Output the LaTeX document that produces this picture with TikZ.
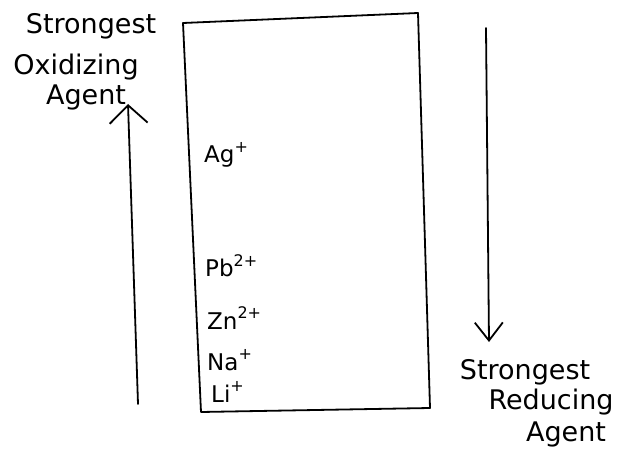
\documentclass[tikz,border=0pt]{standalone}
\usepackage{fontspec}
\setmainfont{DejaVu Sans}
\usetikzlibrary{arrows.meta}
\newcommand{\ionsup}[1]{\raisebox{0.45em}{\fontsize{16}{18}\selectfont #1}}
\begin{document}
\begin{tikzpicture}[x=1pt,y=-1pt,
  ink/.style={line width=1.8pt,line cap=round,line join=round},
  lbl/.style={font=\fontsize{27}{31}\selectfont,inner sep=0pt},
  ion/.style={font=\fontsize{23}{27}\selectfont,inner sep=0pt,anchor=west}]
\useasboundingbox (0,0) rectangle (619,452);
% box
\coordinate (tl) at (183,23);
\coordinate (tr) at (418,13);
\coordinate (br) at (430,408);
\coordinate (bl) at (201,412);
\draw[ink] (tl) -- (tr) -- (br) -- (bl) -- cycle;
% arrows
\coordinate (la) at (138,404);
\coordinate (lb) at (128,104);
\draw[ink,-{Straight Barb[length=18pt,width=38pt,line width=1.8pt]}] (la) -- (lb);
\coordinate (ra) at (486,28);
\coordinate (rb) at (489,342);
\draw[ink,-{Straight Barb[length=18pt,width=28pt,line width=1.8pt]}] (ra) -- (rb);
% left labels
\node[lbl] (s1) at (91,26) {Strongest};
\node[lbl] (o1) at (76,67) {Oxidizing};
\node[lbl] (a1) at (86,97) {Agent};
% ions
\node[ion] (ag) at (204,155) {Ag\ionsup{+}};
\node[ion] (pb) at (205,266) {Pb\ionsup{2+}};
\node[ion] (zn) at (207,318) {Zn\ionsup{2+}};
\node[ion] (na) at (207,360) {Na\ionsup{+}};
\node[ion] (li) at (211,392) {Li\ionsup{+}};
% right labels
\node[lbl] (s2) at (525,372) {Strongest};
\node[lbl] (r2) at (551,402) {Reducing};
\node[lbl] (a2) at (566,434) {Agent};
\end{tikzpicture}
\end{document}
